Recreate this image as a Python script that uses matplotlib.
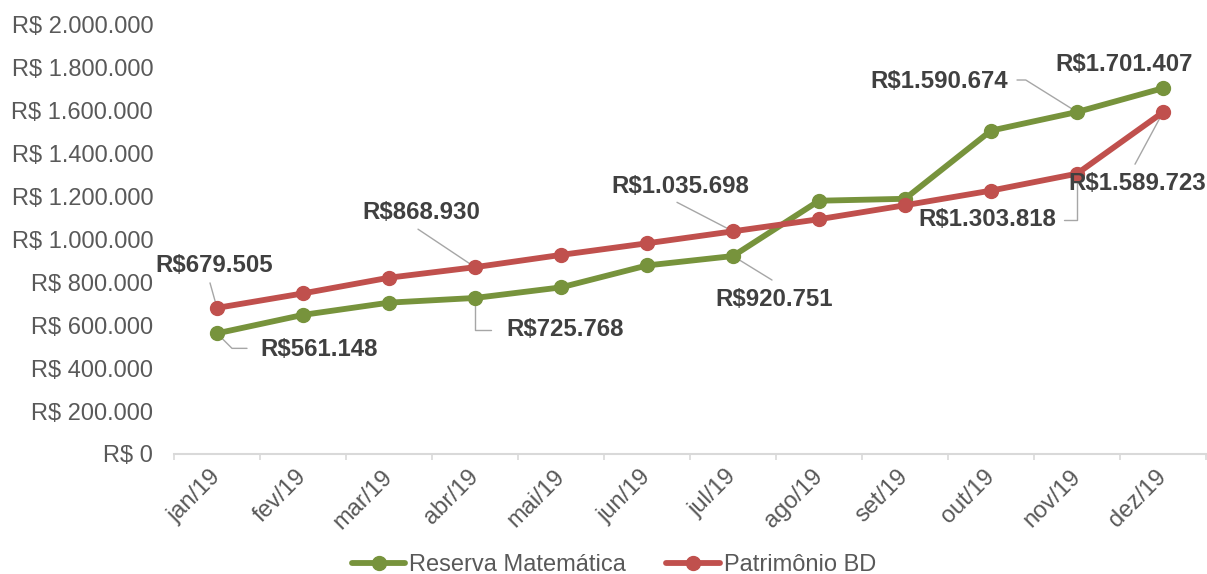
import matplotlib
matplotlib.use("Agg")
import matplotlib.pyplot as plt
import numpy as np
from matplotlib.ticker import FuncFormatter, FixedLocator

plt.rcParams['font.family'] = ['Liberation Sans', 'DejaVu Sans']

months = ['jan/19', 'fev/19', 'mar/19', 'abr/19', 'mai/19', 'jun/19',
          'jul/19', 'ago/19', 'set/19', 'out/19', 'nov/19', 'dez/19']
reserva = [561148, 647000, 704000, 725768, 775000, 877000,
           920751, 1178000, 1187000, 1504000, 1590674, 1701407]
patrimonio = [679505, 747000, 820000, 868930, 926000, 980000,
              1035698, 1092000, 1157000, 1225000, 1303818, 1589723]
series_names = ['Reserva Matemática', 'Patrimônio BD']
yticks = [0, 200000, 400000, 600000, 800000, 1000000, 1200000,
          1400000, 1600000, 1800000, 2000000]

GREEN = '#77933C'
RED = '#C0504D'
TXT = '#595959'
LBL = '#404040'
LEAD = '#A6A6A6'


def brl(v):
    return 'R$' + f'{v:,.0f}'.replace(',', '.')


fig = plt.figure(figsize=(12.07, 5.74), dpi=100)
ax = fig.add_axes([174/1207, 1-454/574, 1032/1207, 430/574])

x = np.arange(len(months))
ax.plot(x, reserva, color=GREEN, lw=4.2, marker='o', ms=10,
        solid_joinstyle='round', solid_capstyle='round', label=series_names[0], zorder=2)
ax.plot(x, patrimonio, color=RED, lw=4.2, marker='o', ms=10,
        solid_joinstyle='round', solid_capstyle='round', label=series_names[1], zorder=3)

ax.set_xlim(-0.5, len(months) - 0.5)
ax.set_ylim(0, 2000000)
ax.set_yticks(yticks)
ax.yaxis.set_major_formatter(FuncFormatter(
    lambda v, p: 'R$ 0' if v == 0 else 'R$ ' + f'{v:,.0f}'.replace(',', '.')))
ax.tick_params(axis='y', length=0, pad=15, labelsize=17, labelcolor=TXT)

ax.set_xticks(x)
ax.set_xticklabels(months)
ax.xaxis.set_minor_locator(FixedLocator(np.arange(-0.5, len(months), 1)))
ax.tick_params(axis='x', which='major', length=0, pad=14, labelsize=17, labelcolor=TXT)
ax.tick_params(axis='x', which='minor', length=4.5, width=1.2, color='#D9D9D9')
for lab in ax.get_xticklabels():
    lab.set_rotation(45)
    lab.set_ha('right')
    lab.set_va('center')
    lab.set_rotation_mode('anchor')

for s in ['top', 'right', 'left']:
    ax.spines[s].set_visible(False)
ax.spines['bottom'].set_color('#D9D9D9')
ax.spines['bottom'].set_linewidth(1.5)

# data labels: (series, index, text offset px, leader start px, connectionstyle)
labels = [
    (patrimonio, 0, (-3, 42), (-7, 25), None),
    (reserva, 0, (102, -16), (30, -15), 'angle,angleA=0,angleB=-45,rad=0'),
    (patrimonio, 3, (-54, 55), (-57, 38), None),
    (reserva, 3, (90, -32), (16, -32), 'angle,angleA=0,angleB=90,rad=0'),
    (patrimonio, 6, (-53, 45), (-56, 29), None),
    (reserva, 6, (41, -43), (39, -24), None),
    (patrimonio, 10, (-90, -46), (-13, -46), 'angle,angleA=0,angleB=90,rad=0'),
    (reserva, 10, (-138, 31), (-60, 32), 'angle,angleA=0,angleB=148,rad=0'),
    (reserva, 11, (-39, 24), None, None),
    (patrimonio, 11, (-26, -71), (-28, -52), None),
]
for ser, i, toff, loff, cs in labels:
    v = ser[i]
    if loff is not None:
        ap = dict(arrowstyle='-', color=LEAD, lw=1.0, shrinkA=0, shrinkB=0)
        if cs:
            ap['connectionstyle'] = cs
        ax.annotate('', xy=(i, v), xytext=loff, textcoords='offset pixels',
                    arrowprops=ap, annotation_clip=False, zorder=1)
    ax.annotate(brl(v), xy=(i, v), xytext=toff, textcoords='offset pixels',
                ha='center', va='center', fontsize=17.3, fontweight='bold',
                color=LBL, annotation_clip=False, zorder=5)

fig.legend(loc='center', bbox_to_anchor=(614/1207, 1-565/574), ncol=2,
           frameon=False, fontsize=17, handlelength=2.25, handletextpad=0.17,
           columnspacing=1.7, borderpad=0, labelcolor=TXT)

fig.savefig('out.png', dpi=100)
